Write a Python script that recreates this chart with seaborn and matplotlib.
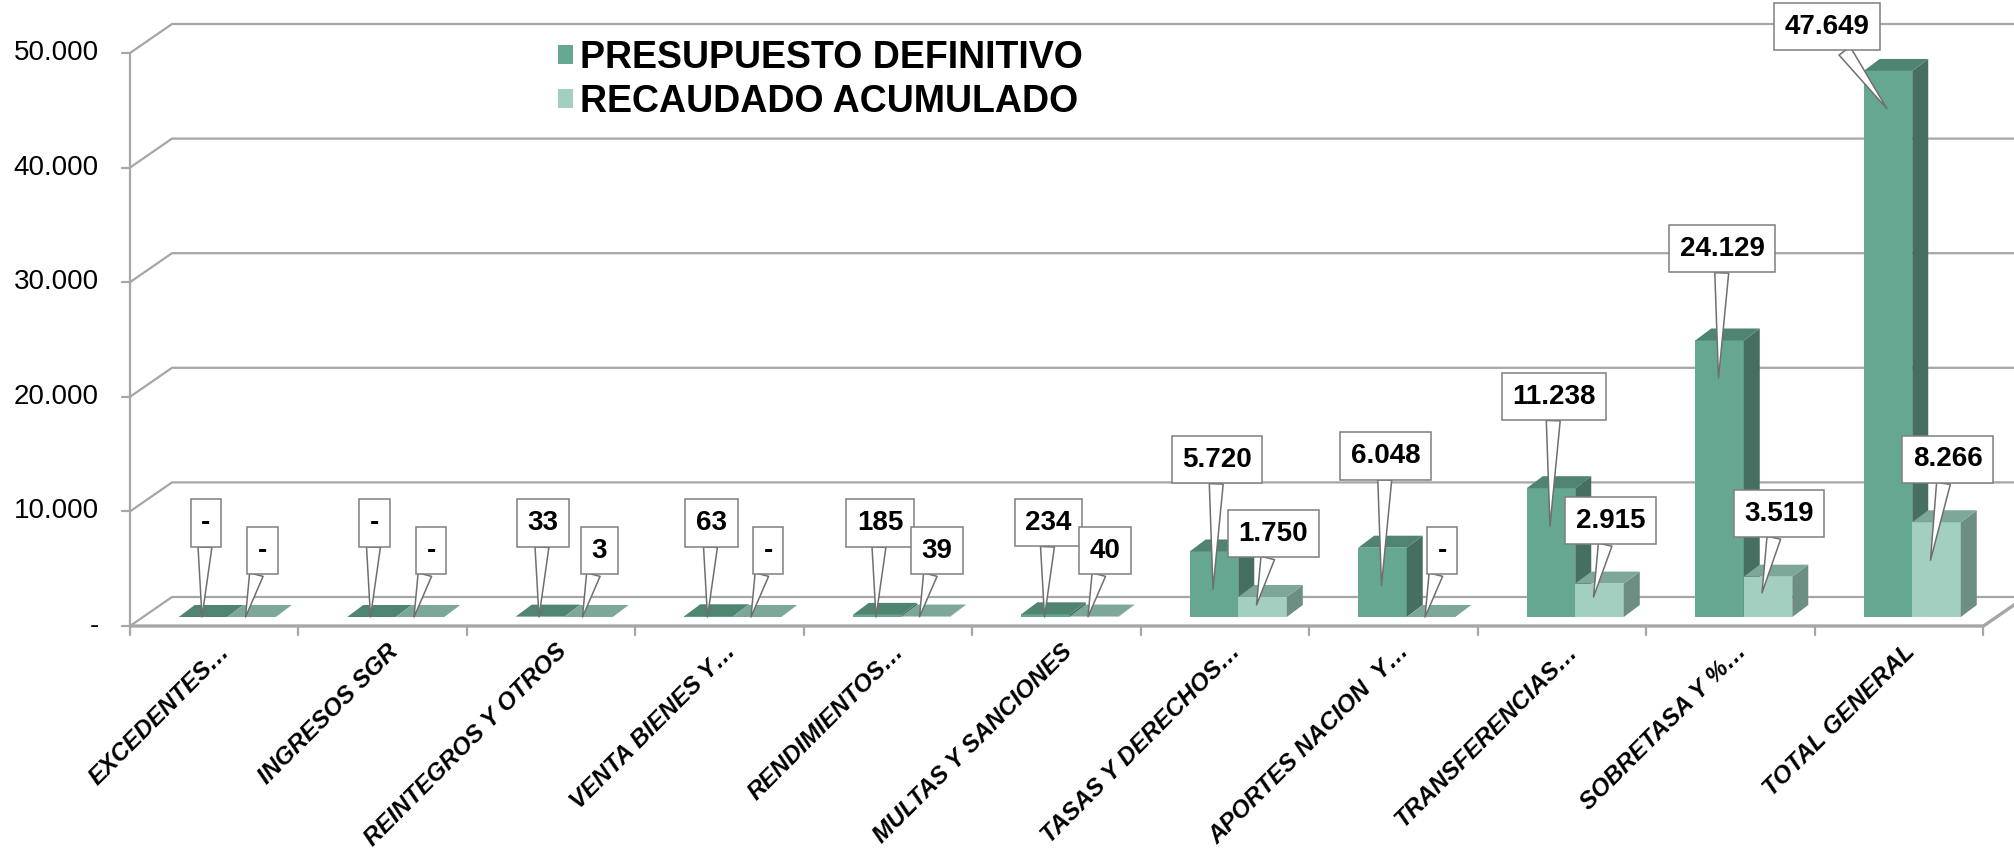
import matplotlib
matplotlib.use("Agg")
import pandas as pd
import matplotlib.pyplot as plt
from matplotlib.patches import Polygon, Patch
import seaborn as sns

# ---------- DATA ----------
categorias = ["EXCEDENTES…", "INGRESOS SGR", "REINTEGROS Y OTROS", "VENTA BIENES Y…",
              "RENDIMIENTOS…", "MULTAS Y SANCIONES", "TASAS Y DERECHOS…",
              "APORTES NACION  Y…", "TRANSFERENCIAS…", "SOBRETASA Y %…", "TOTAL GENERAL"]
presupuesto = [0, 0, 33, 63, 185, 234, 5720, 6048, 11238, 24129, 47649]
recaudado = [0, 0, 3, 0, 39, 40, 1750, 0, 2915, 3519, 8266]
series = ["PRESUPUESTO DEFINITIVO", "RECAUDADO ACUMULADO"]
yticks = [0, 10000, 20000, 30000, 40000, 50000]
ytick_labels = ["-", "10.000", "20.000", "30.000", "40.000", "50.000"]

# ---------- STYLE ----------
front_col = ["#66A792", "#A2CFBF"]
top_col = ["#4F8471", "#7DA897"]
side_col = ["#476F61", "#6D8E82"]
grid_col = "#A6A6A6"

sns.set_theme(style="white")
plt.rcParams["font.family"] = ["Liberation Sans", "DejaVu Sans"]
plt.rcParams["text.color"] = "black"

W, H = 2015, 850
PX_CAT = 168.5      # pixels per category
PX_10K = 114.6      # pixels per 10.000
AXIS_X = 130        # front left axis (px)
FLOOR_Y = 626       # front floor edge (px from top)

def fx(px):
    return px / PX_CAT

def fy(px):
    return px / PX_10K * 10000

# offsets relative to the plane where the bars stand
FDX, FDY = fx(-13), fy(-9)     # front plane
BDX, BDY = fx(29), fy(20)      # back wall
DDX, DDY = fx(16), fy(12)      # bar depth

def fmt(v):
    return "-" if v == 0 else f"{v:,}".replace(",", ".")

# ---------- DATAFRAME ----------
df = pd.DataFrame({
    "categoria": categorias * 2,
    "serie": [series[0]] * len(categorias) + [series[1]] * len(categorias),
    "valor": presupuesto + recaudado,
})

fig = plt.figure(figsize=(W / 100, H / 100), dpi=100)
ax = fig.add_axes([0, 0, 1, 1])

sns.barplot(data=df, x="categoria", y="valor", hue="serie", order=categorias,
            hue_order=series, palette=front_col, width=0.576, saturation=1,
            errorbar=None, legend=False, linewidth=0, ax=ax)

x_left = -0.5 - (AXIS_X + 13) / PX_CAT
x_right = x_left + W / PX_CAT
bar_zero = FLOOR_Y - 9
ax.set_xlim(x_left, x_right)
ax.set_ylim(-fy(H - bar_zero), fy(bar_zero))
ax.set_axis_off()

# ---------- 3D faces ----------
for p in list(ax.patches):
    x, w, h = p.get_x(), p.get_width(), p.get_height()
    cx = x + w / 2
    k = 0 if cx < round(cx) else 1
    z = 2 + k
    p.set_zorder(z)
    top = Polygon([(x, h), (x + w, h), (x + w + DDX, h + DDY), (x + DDX, h + DDY)],
                  closed=True, fc=top_col[k], ec="none", zorder=z)
    side = Polygon([(x + w, 0), (x + w + DDX, DDY), (x + w + DDX, h + DDY), (x + w, h)],
                   closed=True, fc=side_col[k], ec="none", zorder=z)
    ax.add_patch(side)
    ax.add_patch(top)

# ---------- walls / grid ----------
x0 = -0.5
xn = len(categorias) - 0.5
for t, lab in zip(yticks, ytick_labels):
    ax.plot([x0 + FDX, x0 + BDX, x_right + 1], [t + FDY, t + BDY, t + BDY],
            color=grid_col, lw=1.6, zorder=0.5, solid_joinstyle="miter")
    ax.plot([x0 + FDX - fx(8), x0 + FDX], [t + FDY, t + FDY], color=grid_col, lw=1.6, zorder=0.5)
    ax.text(x0 + FDX - fx(31), t + FDY, lab, ha="right", va="center", fontsize=20)

ax.plot([x0 + FDX, x0 + FDX], [FDY, yticks[-1] + FDY], color=grid_col, lw=1.6, zorder=0.6)
ax.plot([x0 + FDX, xn + FDX, xn + BDX], [FDY, FDY, BDY], color=grid_col, lw=2.4,
        zorder=0.6, solid_joinstyle="miter")
for k in range(len(categorias) + 1):
    xb = k - 0.5 + FDX
    ax.plot([xb, xb], [FDY, FDY - fy(9)], color=grid_col, lw=1.6, zorder=0.6)

# ---------- category labels ----------
for i, c in enumerate(categorias):
    ax.text(i + FDX + fx(12), FDY - fy(22), c, rotation=45, rotation_mode="anchor",
            ha="right", va="center", fontsize=17.5, fontweight="bold", fontstyle="italic")

# ---------- callouts ----------
box = dict(boxstyle="square,pad=0.38", fc="white", ec="#7F7F7F", lw=1.1)
arrow = dict(arrowstyle="wedge,tail_width=0.5,shrink_factor=0.5", fc="white",
             ec="#6F6F6F", lw=1.1, shrinkA=0, shrinkB=0)

for i, v in enumerate(presupuesto):
    cx = i - 0.144
    tip_x = cx - fx(1)
    tip_y = max(v - 3300, 0)
    box_y = max(v + 8000, 8200)
    box_x = tip_x + fx(4)
    if box_y > 51500:
        box_y = 51500
        box_x = tip_x - fx(60)
    ax.annotate(fmt(v), xy=(tip_x, tip_y), xytext=(box_x, box_y),
                ha="center", va="center", fontsize=20, fontweight="bold",
                bbox=box, arrowprops=arrow, zorder=6)

for i, v in enumerate(recaudado):
    cx = i + 0.144
    tip_x = cx - fx(6)
    tip_y = v * 0.6
    box_y = max(v + 5500, 5800)
    box_x = tip_x + fx(17)
    ax.annotate(fmt(v), xy=(tip_x, tip_y), xytext=(box_x, box_y),
                ha="center", va="center", fontsize=20, fontweight="bold",
                bbox=box, arrowprops=arrow, zorder=6)

# ---------- legend ----------
handles = [Patch(facecolor=c, edgecolor="none") for c in front_col]
ax.legend(handles, series, loc="upper left", bbox_to_anchor=(558 / W, 1 - 40 / H),
          bbox_transform=fig.transFigure, frameon=False,
          prop={"size": 27, "weight": "bold"}, handlelength=0.4, handleheight=0.4,
          handletextpad=0.2, labelspacing=0.2, borderpad=0, borderaxespad=0)

fig.savefig("out.png", dpi=100, facecolor="white")
